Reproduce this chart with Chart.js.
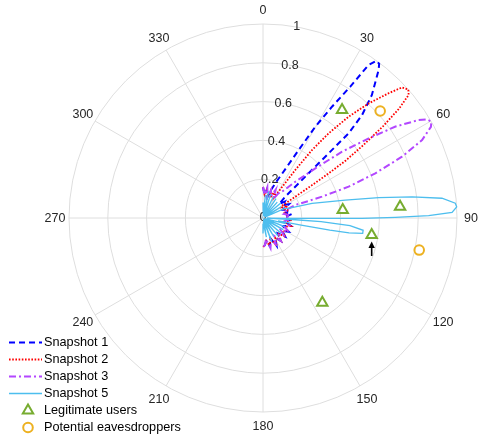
<!DOCTYPE html>
<html><head><meta charset="utf-8">
<script src="https://cdn.jsdelivr.net/npm/chart.js@4.4.0/dist/chart.umd.min.js"></script>
<style>html,body{margin:0;padding:0;background:#fff;}canvas{display:block;}</style>
</head><body>
<canvas id="c" width="478" height="438"></canvas>
<script>
// ---- axis ticks ----
const thetaTicks = [0,30,60,90,120,150,180,210,240,270,300,330];
const rTicks = [0,0.2,0.4,0.6,0.8,1];
const rTickLabels = ['0','0.2','0.4','0.6','0.8','1'];
const rLabelAngle = 10;

// ---- series (theta in degrees clockwise from top, r normalized) ----
const seriesNames = ['Snapshot 1','Snapshot 2','Snapshot 3','Snapshot 5'];

const theta1 = [0,4,8,12,16,19.5,25,27.7,29.8,31.8,33.6,34.6,35.8,37,38,41.5,43.9,45.3,45.4,45.5,45.8,46.3,49,53,57,62,67,72,77,82,88,94,100,106,112,118,124,130,136,142,148,154,160,166,172,176,180];
const r1     = [.16,.12,.15,.11,.15,.19,.29,.396,.542,.675,.813,.958,1.0,.995,.968,.847,.736,.621,.5,.378,.257,.159,.11,.14,.12,.15,.11,.14,.12,.15,.11,.14,.12,.15,.11,.15,.12,.15,.11,.15,.12,.16,.11,.15,.12,.14,.15];

const theta2 = [0,4,8,12,16,20,24,28,31,33.9,35.8,37.8,40.2,42.7,45.2,46.8,48.5,49.8,51.2,52.6,54,55.2,55.8,56.2,56.6,57.2,60,64,68,72,77,82,88,94,100,106,112,118,124,130,136,142,148,154,160,166,172,176,180];
const r2     = [.16,.12,.15,.12,.15,.11,.16,.12,.17,.298,.432,.553,.684,.804,.913,.983,1.0,.983,.9,.78,.64,.52,.41,.3,.2,.12,.11,.14,.12,.14,.11,.13,.12,.15,.11,.15,.12,.14,.12,.15,.11,.15,.12,.16,.11,.15,.12,.14,.15];

const theta3 = [0,4,8,12,16,20,24,28,32,35.8,41.7,46.5,50,53,55.4,57.8,58.9,60.2,61.5,63.9,66.2,68.3,69.9,70.1,69.5,68,71,75,79,84,89,94,100,106,112,118,124,130,136,142,148,154,160,166,172,176,180];
const r3     = [.16,.12,.16,.11,.15,.12,.16,.11,.15,.167,.25,.372,.532,.682,.83,.948,.985,1.0,.985,.913,.783,.623,.47,.323,.25,.18,.12,.13,.11,.14,.12,.13,.11,.14,.12,.15,.11,.14,.12,.15,.11,.15,.12,.16,.11,.14,.15];

const theta5 = [0,3,6,9,12,15,18,22,26,30,34,38,42,46,50,54,58,62,66,69.3,73.3,77.7,80,81.9,83.7,85.6,86.7,88.3,89.2,89.7,90.2,90.3,90.5,90.8,91.5,93,93.5,95,97,98.8,99.8,100.2,100.5,101,104,108,112,116,120,125,130,135,140,145,150,155,160,165,170,175,180];
const r5     = [.08,.02,.12,.01,.14,.02,.13,.01,.12,.01,.12,.01,.11,.01,.12,.01,.11,.01,.12,.14,.264,.434,.606,.776,.928,.994,1.0,.975,.854,.682,.51,.339,.167,.115,.02,.15,.3,.45,.52,.52,.45,.35,.2,.08,.12,.01,.12,.01,.12,.01,.12,.01,.12,.02,.11,.02,.13,.02,.1,.03,.08];

const usersTheta = [36.2,84.3,85.3,98.9,145];
const usersR     = [.69,.413,.709,.567,.533];
const eavesTheta = [47.6,101.6];
const eavesR     = [.818,.822];
const arrowUserIndex = 3;

function toXY(th, r){
  return th.map((t,i)=>({x: r[i]*Math.sin(t*Math.PI/180), y: r[i]*Math.cos(t*Math.PI/180)}));
}

const FONT = '"Liberation Sans", Arial, Helvetica, sans-serif';

const polarGrid = {
  id:'polarGrid',
  beforeDatasetsDraw(chart){
    const {ctx, scales:{x,y}} = chart;
    const cx = x.getPixelForValue(0), cy = y.getPixelForValue(0);
    const R = x.getPixelForValue(1) - cx;
    ctx.save();
    ctx.strokeStyle = '#dedede'; ctx.lineWidth = 1;
    rTicks.forEach(r=>{ if(r>0){ ctx.beginPath(); ctx.arc(cx,cy,r*R,0,Math.PI*2); ctx.stroke(); }});
    thetaTicks.forEach(t=>{ const a=t*Math.PI/180; ctx.beginPath(); ctx.moveTo(cx,cy); ctx.lineTo(cx+R*Math.sin(a), cy-R*Math.cos(a)); ctx.stroke(); });
    ctx.fillStyle = '#262626';
    ctx.font = '12.5px ' + FONT;
    ctx.textAlign='center'; ctx.textBaseline='middle';
    thetaTicks.forEach(t=>{ const a=t*Math.PI/180; const d=R+14; ctx.fillText(String(t), cx+d*Math.sin(a), cy-d*Math.cos(a)+1); });
    const la = rLabelAngle*Math.PI/180;
    rTicks.forEach((r,i)=>{ ctx.fillText(rTickLabels[i], cx+r*R*Math.sin(la), cy-r*R*Math.cos(la)); });
    ctx.restore();
  }
};

const arrowPlugin = {
  id:'arrow',
  afterDatasetsDraw(chart){
    const meta = chart.getDatasetMeta(4);
    const pt = meta.data[arrowUserIndex];
    if(!pt) return;
    const ctx = chart.ctx, px = pt.x, py = pt.y;
    ctx.save();
    ctx.strokeStyle='#000'; ctx.fillStyle='#000'; ctx.lineWidth=1.6;
    ctx.beginPath(); ctx.moveTo(px, py+21); ctx.lineTo(px, py+11); ctx.stroke();
    ctx.beginPath(); ctx.moveTo(px, py+6.5); ctx.lineTo(px-3.2, py+13); ctx.lineTo(px+3.2, py+13); ctx.closePath(); ctx.fill();
    ctx.restore();
  }
};

const legendPlugin = {
  id:'customLegend',
  afterDraw(chart){
    const ctx = chart.ctx;
    ctx.save();
    ctx.font = '12.7px ' + FONT;
    ctx.textAlign='left'; ctx.textBaseline='middle';
    chart.data.datasets.forEach((ds,i)=>{
      const y = 342.5 + i*17;
      if(ds.showLine){
        ctx.strokeStyle = ds.borderColor; ctx.lineWidth = ds.borderWidth;
        ctx.setLineDash(ds.borderDash || []);
        ctx.beginPath(); ctx.moveTo(9,y); ctx.lineTo(42,y); ctx.stroke();
        ctx.setLineDash([]);
      } else {
        ctx.strokeStyle = ds.pointBorderColor; ctx.fillStyle='rgba(0,0,0,0)';
        ctx.lineWidth = ds.pointBorderWidth;
        Chart.helpers.drawPoint(ctx, {pointStyle: ds.pointStyle, rotation:0, radius: ds.pointRadius, borderWidth: ds.pointBorderWidth}, 28, y);
      }
      ctx.fillStyle='#000';
      ctx.fillText(ds.label, 44, y);
    });
    ctx.restore();
  }
};

function lineDS(label, th, r, color, dash, width, order){
  return {label, data: toXY(th,r), showLine:true, borderColor:color, backgroundColor:color,
    borderWidth:width, borderDash:dash, pointRadius:0, pointHoverRadius:0, tension:0, fill:false, clip:false, order};
}

new Chart(document.getElementById('c'), {
  type:'scatter',
  data:{datasets:[
    lineDS(seriesNames[0], theta1, r1, '#0000ff', [6,4], 2, 5),
    lineDS(seriesNames[1], theta2, r2, '#ff0000', [1.6,1.6], 1.8, 4),
    lineDS(seriesNames[2], theta3, r3, '#b347ff', [7,3,2,3], 2, 3),
    lineDS(seriesNames[3], theta5, r5, '#4dbeee', [], 1.3, 2),
    {label:'Legitimate users', data: toXY(usersTheta, usersR), showLine:false, pointStyle:'triangle',
      pointRadius:6, pointBorderColor:'#77ac30', pointBackgroundColor:'rgba(0,0,0,0)', pointBorderWidth:2, clip:false, order:1},
    {label:'Potential eavesdroppers', data: toXY(eavesTheta, eavesR), showLine:false, pointStyle:'circle',
      pointRadius:4.8, pointBorderColor:'#edb120', pointBackgroundColor:'rgba(0,0,0,0)', pointBorderWidth:2, clip:false, order:0}
  ]},
  options:{
    responsive:false, animation:false, events:[],
    layout:{padding:{left:69,right:21,top:24,bottom:26}},
    scales:{
      x:{type:'linear',min:-1,max:1,display:false},
      y:{type:'linear',min:-1,max:1,display:false}
    },
    plugins:{legend:{display:false}, tooltip:{enabled:false}}
  },
  plugins:[polarGrid, arrowPlugin, legendPlugin]
});
</script>
</body></html>
